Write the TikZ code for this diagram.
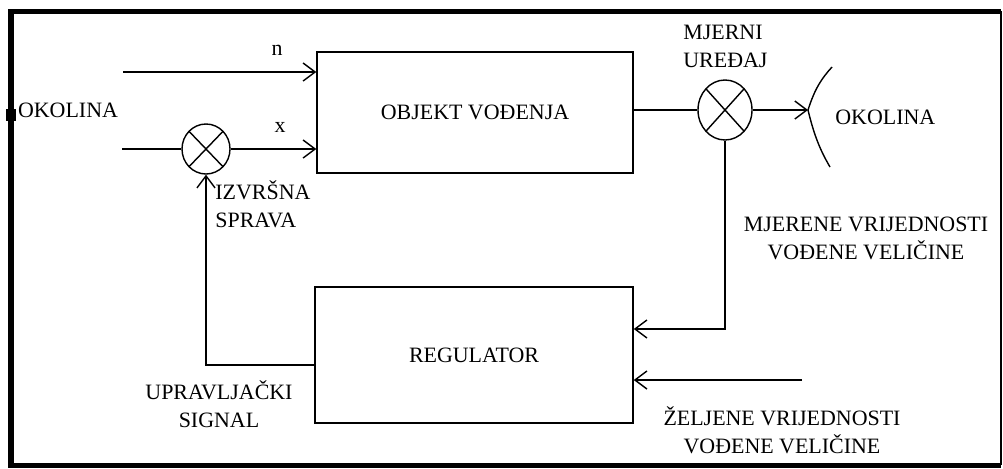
\documentclass[tikz,border=0pt]{standalone}
\usepackage{fontspec}
\setmainfont{Liberation Serif}
\usetikzlibrary{arrows.meta,positioning,calc,shapes.geometric}

\begin{document}
\begin{tikzpicture}[
    x=0.025cm, y=-0.025cm,
    line width=1pt,
    every node/.style={font=\fontsize{15.6}{20}\selectfont},
    blok/.style={draw,line width=1pt,inner sep=0pt},
    zbroj/.style={draw,ellipse,line width=1pt,inner sep=0pt,
      path picture={\draw (path picture bounding box.north west)--(path picture bounding box.south east)
        (path picture bounding box.north east)--(path picture bounding box.south west);}},
    arr/.style={-{Straight Barb[length=3mm,width=4.5mm]},line width=1pt}
  ]
    \useasboundingbox (0,0) rectangle (1003,468);
    % okvir
    \draw[line width=0.125cm] (1001,11) -- (11,11) -- (11,465) -- (1001,465);
    \draw (1001,11) -- (1001,465);
    \fill (6,109) rectangle (16,121);

    \node[blok,minimum width=7.9cm,minimum height=3.025cm] (obj) at (475,112.5) {OBJEKT VOĐENJA};
    \node[blok,minimum width=7.95cm,minimum height=3.4cm] (reg) at (474,355) {REGULATOR};
    \node[zbroj,minimum width=1.2cm,minimum height=1.25cm] (izv) at (206,149) {};
    \node[zbroj,minimum width=1.35cm,minimum height=1.5cm] (mjer) at (725,110) {};

    \coordinate (nin) at (123,72);
    \coordinate (xin) at (122,149);
    \coordinate (rasc) at (808,110);
    \coordinate (zel) at (802,380);

    \draw[arr] (nin) -- (nin -| obj.west);
    \draw (xin) -- (izv.west);
    \draw[arr] (izv.east) -- (izv.east -| obj.west);
    \draw (mjer.west -| obj.east) -- (mjer.west);
    \draw[arr] (mjer.east) -- (rasc);
    \draw (rasc) .. controls (815,88) and (822,78) .. (832,67);
    \draw (rasc) .. controls (814,135) and (820,150) .. (830,167);
    \draw[arr] (mjer.south) |- ([yshift=0.65cm]reg.east);
    \draw[arr] (zel) -- (zel -| reg.east);
    \draw[arr] ([yshift=-0.25cm]reg.west) -| (izv.south);

    % natpisi
    \node (nlab) at (277,50) {n};
    \node (xlab) at (280,127) {x};
    \node (okl) at (68,110) {OKOLINA};
    \node[align=left,anchor=west] (izvl) at (210,204) {IZVRŠNA\\SPRAVA};
    \node[align=center] (upr) at (219,404) {UPRAVLJAČKI\\SIGNAL};
    \node[align=left,anchor=west] (mjl) at (678,46) {MJERNI\\UREĐAJ};
    \node[anchor=west] (okd) at (830,117) {OKOLINA};
    \node[align=center] (mvr) at (866,238) {MJERENE VRIJEDNOSTI\\VOĐENE VELIČINE};
    \node[align=center] (zvr) at (782,430) {ŽELJENE VRIJEDNOSTI\\VOĐENE VELIČINE};
  \end{tikzpicture}
\end{document}
